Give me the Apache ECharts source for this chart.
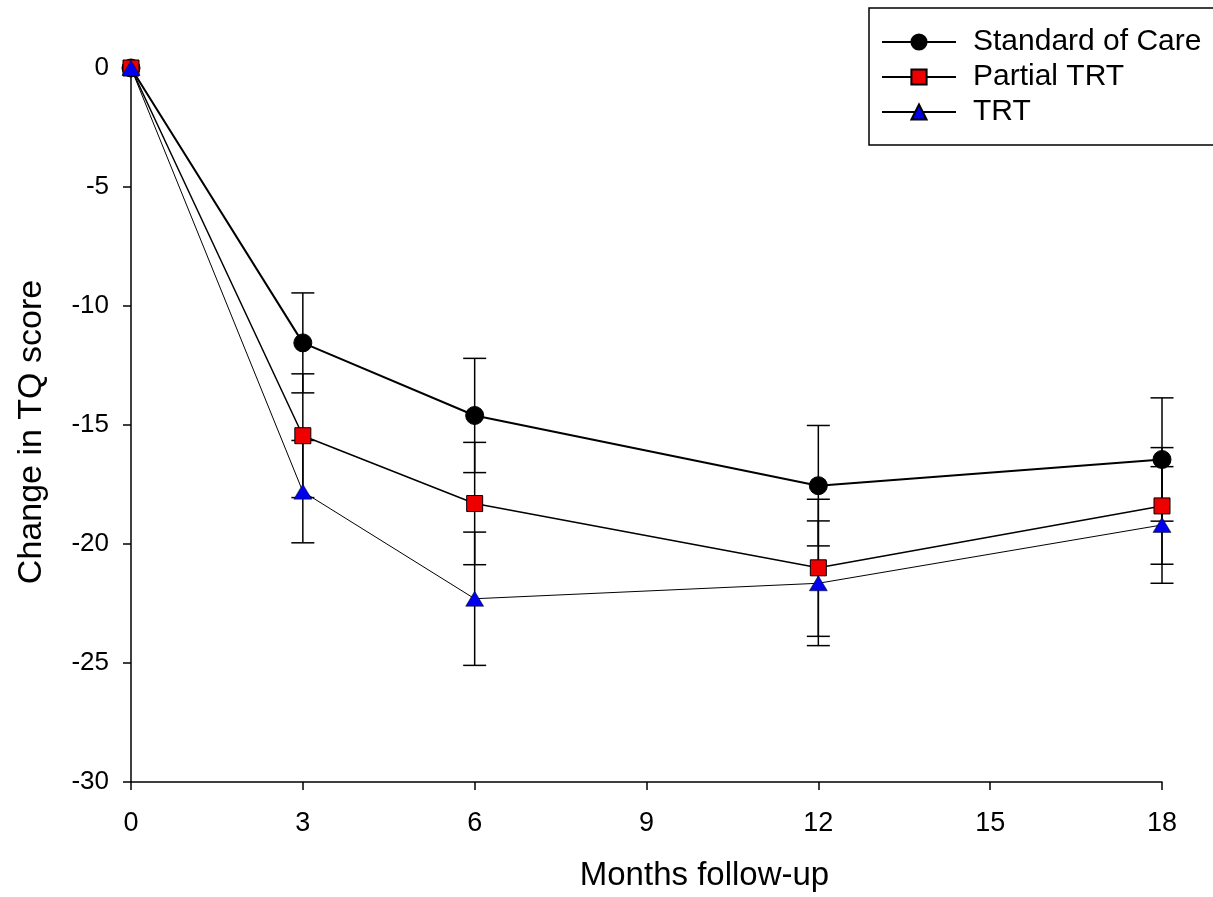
<!DOCTYPE html>
<html>
<head>
<meta charset="utf-8">
<script src="https://cdn.jsdelivr.net/npm/echarts@6/dist/echarts.min.js"></script>
<style>html,body{margin:0;padding:0;background:#fff;}#c{width:1213px;height:897px;}</style>
</head>
<body>
<div id="c"></div>
<script>
const months = [0, 3, 6, 12, 18];
const seriesNames = ['Standard of Care', 'Partial TRT', 'TRT'];
const socMean = [0, -11.55, -14.6, -17.55, -16.45];
const socErr = [0, 2.1, 2.4, 2.53, 2.59];
const partialMean = [0, -15.45, -18.3, -21.0, -18.4];
const partialErr = [0, 2.6, 2.57, 2.88, 2.45];
const trtMean = [0, -17.8, -22.3, -21.65, -19.2];
const trtErr = [0, 2.15, 2.8, 2.62, 2.45];
const xTicks = [0, 3, 6, 9, 12, 15, 18];
const yTicks = [-30, -25, -20, -15, -10, -5, 0];

const FONT = '"Liberation Sans", Arial, sans-serif';

function pts(mean) { return months.map((m, i) => [m, mean[i]]); }
function errData(mean, err) {
  const out = [];
  months.forEach((m, i) => { if (err[i] > 0) out.push([m, mean[i] - err[i], mean[i] + err[i]]); });
  return out;
}
function errSeries(mean, err) {
  return {
    type: 'custom',
    z: 1,
    silent: true,
    data: errData(mean, err),
    encode: { x: 0, y: [1, 2] },
    renderItem: function (params, api) {
      const x = api.value(0);
      const lo = api.coord([x, api.value(1)]);
      const hi = api.coord([x, api.value(2)]);
      const hw = 11.5;
      const st = { stroke: '#000', lineWidth: 1.5 };
      return {
        type: 'group',
        children: [
          { type: 'line', shape: { x1: lo[0], y1: lo[1], x2: hi[0], y2: hi[1] }, style: st },
          { type: 'line', shape: { x1: lo[0] - hw, y1: lo[1], x2: lo[0] + hw, y2: lo[1] }, style: st },
          { type: 'line', shape: { x1: hi[0] - hw, y1: hi[1], x2: hi[0] + hw, y2: hi[1] }, style: st }
        ]
      };
    }
  };
}

const chart = echarts.init(document.getElementById('c'), null, { renderer: 'canvas' });
chart.setOption({
  backgroundColor: '#fff',
  animation: false,
  textStyle: { fontFamily: FONT, color: '#000' },
  grid: { left: 131, right: 51, top: 68, bottom: 115, containLabel: false },
  legend: {
    left: 869, top: 8,
    orient: 'vertical',
    data: seriesNames,
    itemWidth: 74, itemHeight: 19, itemGap: 5,
    padding: [19, 14, 18, 12],
    borderColor: '#000', borderWidth: 1.5,
    textStyle: { fontFamily: FONT, fontSize: 30, color: '#000', padding: [0, 0, 0, 12] }
  },
  xAxis: {
    type: 'value', min: 0, max: 18, interval: 3,
    name: 'Months follow-up', nameLocation: 'middle', nameGap: 77,
    nameTextStyle: { fontFamily: FONT, fontSize: 33, color: '#000', padding: [0, 0, 0, 116] },
    axisLine: { onZero: false, lineStyle: { color: '#000', width: 1.5 } },
    axisTick: { show: true, length: 8, lineStyle: { color: '#000', width: 1.5 } },
    axisLabel: { fontFamily: FONT, fontSize: 27, color: '#000', margin: 28,
      formatter: v => xTicks.includes(v) ? String(v) : '' },
    splitLine: { show: false }
  },
  yAxis: {
    type: 'value', min: -30, max: 0, interval: 5,
    name: 'Change in TQ score', nameLocation: 'middle', nameGap: 82,
    nameTextStyle: { fontFamily: FONT, fontSize: 34, color: '#000', padding: [0, 14, 0, 0] },
    axisLine: { show: true, onZero: false, lineStyle: { color: '#000', width: 1.5 } },
    axisTick: { show: true, length: 8, lineStyle: { color: '#000', width: 1.5 } },
    axisLabel: { fontFamily: FONT, fontSize: 26, color: '#000', margin: 22,
      formatter: v => yTicks.includes(v) ? String(v) : '' },
    splitLine: { show: false }
  },
  series: [
    errSeries(socMean, socErr),
    errSeries(partialMean, partialErr),
    errSeries(trtMean, trtErr),
    {
      name: seriesNames[0], type: 'line', z: 3, data: pts(socMean),
      symbol: 'circle', symbolSize: 18,
      lineStyle: { color: '#000', width: 2 },
      itemStyle: { color: '#000', borderColor: '#000', borderWidth: 1 }
    },
    {
      name: seriesNames[1], type: 'line', z: 4, data: pts(partialMean),
      symbol: 'rect', symbolSize: 16,
      lineStyle: { color: '#000', width: 1.5 },
      itemStyle: { color: '#ee0000', borderColor: '#000', borderWidth: 1 }
    },
    {
      name: seriesNames[2], type: 'line', z: 5, data: pts(trtMean),
      symbol: 'triangle', symbolSize: [18, 15],
      lineStyle: { color: '#000', width: 1 },
      itemStyle: { color: '#0000ee', borderColor: '#000', borderWidth: 0.5 }
    }
  ]
});
</script>
</body>
</html>
